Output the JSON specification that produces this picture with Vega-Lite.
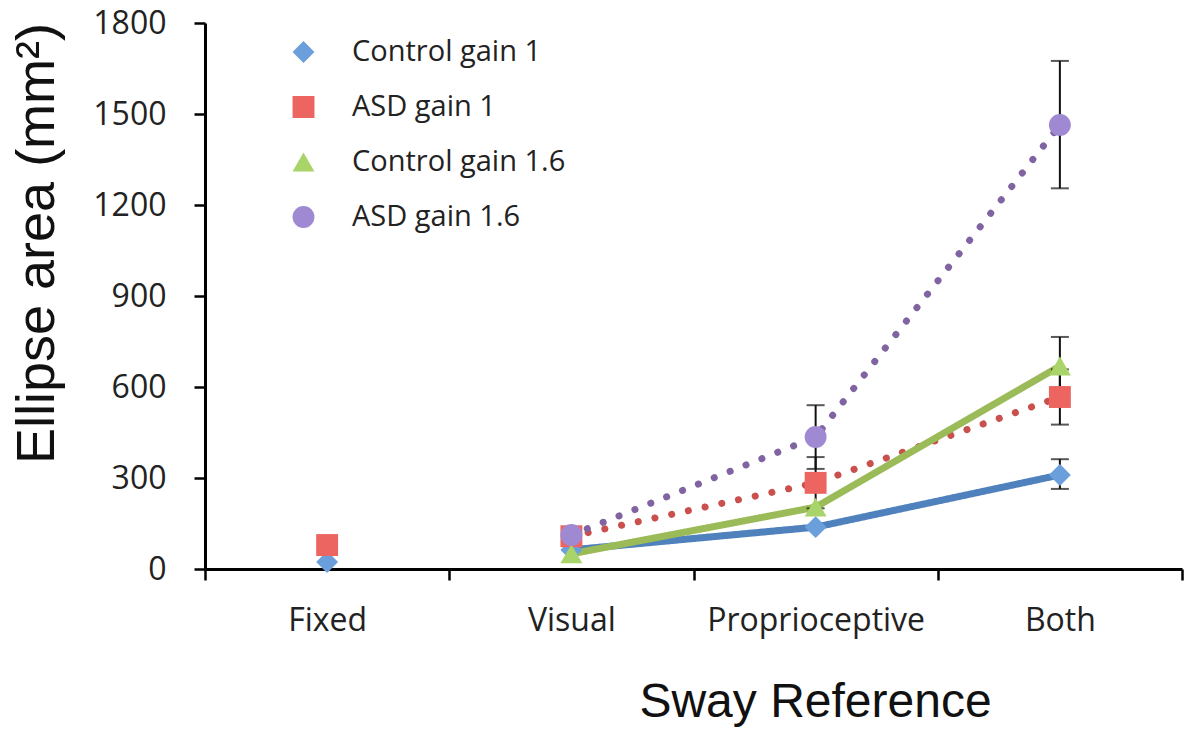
{
  "$schema": "https://vega.github.io/schema/vega-lite/v6.json",
  "width": 977,
  "height": 546,
  "autosize": "none",
  "padding": {"left": 205, "top": 23, "right": 5, "bottom": 162},
  "background": "white",
  "config": {
    "view": {"stroke": null},
    "axis": {"grid": false},
    "legend": {
      "orient": "none",
      "legendX": 84,
      "legendY": 14,
      "title": null,
      "symbolSize": 480,
      "symbolStrokeWidth": 0,
      "labelFont": "Open Sans",
      "labelFontSize": 29,
      "labelColor": "#222",
      "labelOffset": 34,
      "labelLimit": 0,
      "clipHeight": 30,
      "rowPadding": 25
    }
  },
  "data": {
    "values": [
      {"cond": "Fixed", "series": "Control gain 1", "v": 23},
      {"cond": "Fixed", "series": "ASD gain 1", "v": 79},
      {"cond": "Visual", "series": "Control gain 1", "v": 63},
      {"cond": "Proprioceptive", "series": "Control gain 1", "v": 138},
      {"cond": "Both", "series": "Control gain 1", "v": 310, "lo": 264, "hi": 362},
      {"cond": "Visual", "series": "ASD gain 1", "v": 108},
      {"cond": "Proprioceptive", "series": "ASD gain 1", "v": 284, "lo": 200, "hi": 369},
      {"cond": "Both", "series": "ASD gain 1", "v": 567, "lo": 476, "hi": 658},
      {"cond": "Visual", "series": "Control gain 1.6", "v": 50},
      {"cond": "Proprioceptive", "series": "Control gain 1.6", "v": 204},
      {"cond": "Both", "series": "Control gain 1.6", "v": 669, "lo": 573, "hi": 765},
      {"cond": "Visual", "series": "ASD gain 1.6", "v": 112},
      {"cond": "Proprioceptive", "series": "ASD gain 1.6", "v": 435, "lo": 330, "hi": 540},
      {"cond": "Both", "series": "ASD gain 1.6", "v": 1464, "lo": 1255, "hi": 1675}
    ]
  },
  "encoding": {
    "x": {
      "field": "cond",
      "type": "nominal",
      "sort": ["Fixed", "Visual", "Proprioceptive", "Both"],
      "scale": {"type": "band", "paddingInner": 0, "paddingOuter": 0, "domain": ["Fixed", "Visual", "Proprioceptive", "Both"]},
      "axis": {
        "title": "Sway Reference",
        "titleFont": "Liberation Sans",
        "titleFontSize": 48,
        "titleFontWeight": "normal",
        "titleColor": "#111",
        "titleX": 610,
        "titleY": 147,
        "titleAlign": "center",
        "titleBaseline": "alphabetic",
        "labelAngle": 0,
        "labelFont": "Open Sans",
        "labelFontSize": 32,
        "labelColor": "#222",
        "labelBaseline": "top",
        "labelPadding": 25,
        "labelLimit": 0,
        "tickBand": "extent",
        "tickSize": 11,
        "tickWidth": 2.5,
        "tickColor": "#000",
        "domainColor": "#000",
        "domainWidth": 3
      }
    }
  },
  "layer": [
    {
      "transform": [{"filter": "datum.cond !== 'Fixed'"}],
      "mark": {"type": "line", "strokeWidth": 7, "strokeCap": "round"},
      "encoding": {
        "y": {"field": "v", "type": "quantitative", "title": "Ellipse area (mm²)"},
        "stroke": {
          "field": "series",
          "type": "nominal",
          "scale": {"domain": ["Control gain 1", "ASD gain 1", "Control gain 1.6", "ASD gain 1.6"], "range": ["#4F81BD", "#C9504C", "#9BBB59", "#8064A2"]}
        },
        "strokeDash": {
          "field": "series",
          "type": "nominal",
          "scale": {"domain": ["Control gain 1", "ASD gain 1", "Control gain 1.6", "ASD gain 1.6"], "range": [[1, 0], [0.1, 17], [1, 0], [0.1, 17]]}
        },
        "order": {"value": null}
      }
    },
    {
      "transform": [{"filter": "isValid(datum.lo)"}],
      "mark": {"type": "errorbar", "ticks": {"size": 18, "thickness": 2, "color": "#111"}, "rule": {"strokeWidth": 2, "color": "#111"}},
      "encoding": {
        "y": {"field": "lo", "type": "quantitative", "title": "Ellipse area (mm²)"},
        "y2": {"field": "hi"}
      }
    },
    {
      "mark": {"type": "point", "filled": true, "size": 480, "opacity": 1},
      "encoding": {
        "y": {
          "field": "v",
          "type": "quantitative",
          "title": "Ellipse area (mm²)",
          "scale": {"domain": [0, 1800]},
          "axis": {
            "title": "Ellipse area (mm²)",
            "titleFont": "Liberation Sans",
            "titleFontSize": 54,
            "titleFontWeight": "normal",
            "titleColor": "#111",
            "titleAngle": -90,
            "titleX": -152,
            "titleY": 220,
            "titleAlign": "center",
            "titleBaseline": "alphabetic",
            "values": [0, 300, 600, 900, 1200, 1500, 1800],
            "format": "d",
            "labelFont": "Open Sans",
            "labelFontSize": 32,
            "labelColor": "#222",
            "labelPadding": 28,
            "tickSize": 11,
            "tickWidth": 2.5,
            "tickColor": "#000",
            "domainColor": "#000",
            "domainWidth": 3
          }
        },
        "fill": {
          "field": "series",
          "type": "nominal",
          "scale": {"domain": ["Control gain 1", "ASD gain 1", "Control gain 1.6", "ASD gain 1.6"], "range": ["#6B9FDB", "#EC6560", "#A9D46A", "#9F89D3"]}
        },
        "shape": {
          "field": "series",
          "type": "nominal",
          "scale": {"domain": ["Control gain 1", "ASD gain 1", "Control gain 1.6", "ASD gain 1.6"], "range": ["diamond", "square", "triangle-up", "circle"]}
        }
      }
    }
  ]
}
